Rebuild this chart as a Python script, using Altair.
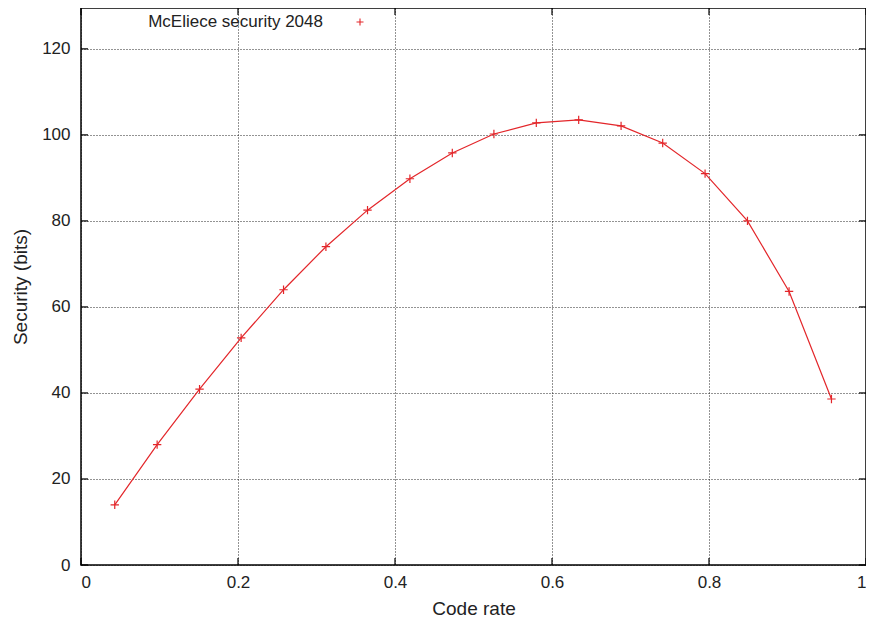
import altair as alt
import pandas as pd

# Data
code_rate = [0.043, 0.097, 0.151, 0.204, 0.258, 0.312, 0.365, 0.419, 0.473,
             0.526, 0.580, 0.634, 0.688, 0.741, 0.795, 0.849, 0.902, 0.956]
security = [14.0, 28.0, 40.9, 52.8, 64.0, 74.0, 82.5, 89.8, 95.8,
            100.2, 102.8, 103.5, 102.1, 98.1, 91.0, 80.0, 63.6, 38.6]
x_ticks = [0, 0.2, 0.4, 0.6, 0.8, 1.0]
y_ticks = [0, 20, 40, 60, 80, 100, 120]
series_name = "McEliece security 2048"

W, H = 785, 557
FONT = "Liberation Sans"
RED = "#e3262a"
PLUS = "M-1,0L1,0M0,-1L0,1"

df = pd.DataFrame({"rate": code_rate, "sec": security})
xt = pd.DataFrame({"rate": x_ticks})
yt = pd.DataFrame({"sec": y_ticks})
leg = pd.DataFrame({"label": [series_name]})

xscale = alt.Scale(domain=[0, 1], nice=False, zero=False)
yscale = alt.Scale(domain=[0, 129.5], nice=False, zero=False)

x_axis = alt.Axis(values=x_ticks, format="~g", title="Code rate",
                  grid=True, ticks=False, tickSize=0, domain=False,
                  labelPadding=9, titlePadding=9)
y_axis = alt.Axis(values=y_ticks, format="d", title="Security (bits)",
                  grid=True, ticks=False, tickSize=0, domain=False,
                  labelPadding=11, titlePadding=11)

X = alt.X("rate:Q", scale=xscale, axis=x_axis, title="Code rate")
Y = alt.Y("sec:Q", scale=yscale, axis=y_axis, title="Security (bits)")

line = alt.Chart(df).mark_line(color=RED, strokeWidth=1.2).encode(x=X, y=Y)
points = alt.Chart(df).mark_point(shape=PLUS, filled=False, color=RED,
                                  size=70, strokeWidth=1.2, opacity=1).encode(x=X, y=Y)

# inward tick marks (gnuplot style, mirrored)
ytick_l = alt.Chart(yt).mark_rule(color="black", strokeWidth=1.2).encode(
    y=Y, x=alt.value(0), x2=alt.value(7))
ytick_r = alt.Chart(yt).mark_rule(color="black", strokeWidth=1.2).encode(
    y=Y, x=alt.value(W - 7), x2=alt.value(W))
xtick_b = alt.Chart(xt).mark_rule(color="black", strokeWidth=1.2).encode(
    x=X, y=alt.value(H - 7), y2=alt.value(H))
xtick_t = alt.Chart(xt).mark_rule(color="black", strokeWidth=1.2).encode(
    x=X, y=alt.value(0), y2=alt.value(7))

# key (top-left, text then symbol, gnuplot style)
leg_text = alt.Chart(leg).mark_text(align="right", baseline="middle",
                                    font=FONT, fontSize=17, color="#222").encode(
    text="label:N", x=alt.value(242), y=alt.value(14))
leg_sym = alt.Chart(leg).mark_point(shape=PLUS, filled=False, color=RED,
                                    size=49, strokeWidth=1.1, opacity=1).encode(
    x=alt.value(279), y=alt.value(14))

chart = alt.layer(line, points, ytick_l, ytick_r, xtick_b, xtick_t,
                  leg_text, leg_sym).properties(
    width=W, height=H,
    background="white",
    autosize=alt.AutoSizeParams(type="none"),
    padding={"left": 73, "top": 0, "right": 0, "bottom": 54},
).configure_view(
    stroke="black", strokeWidth=1.5
).configure_axis(
    labelFont=FONT, titleFont=FONT, labelFontSize=17, titleFontSize=19,
    labelColor="#222", titleColor="#222", titleFontWeight="normal",
    gridColor="#111", gridDash=[1, 2], gridWidth=1, gridOpacity=0.9,
)

chart.save("out.html", embed_options={"renderer": "svg", "actions": False})
